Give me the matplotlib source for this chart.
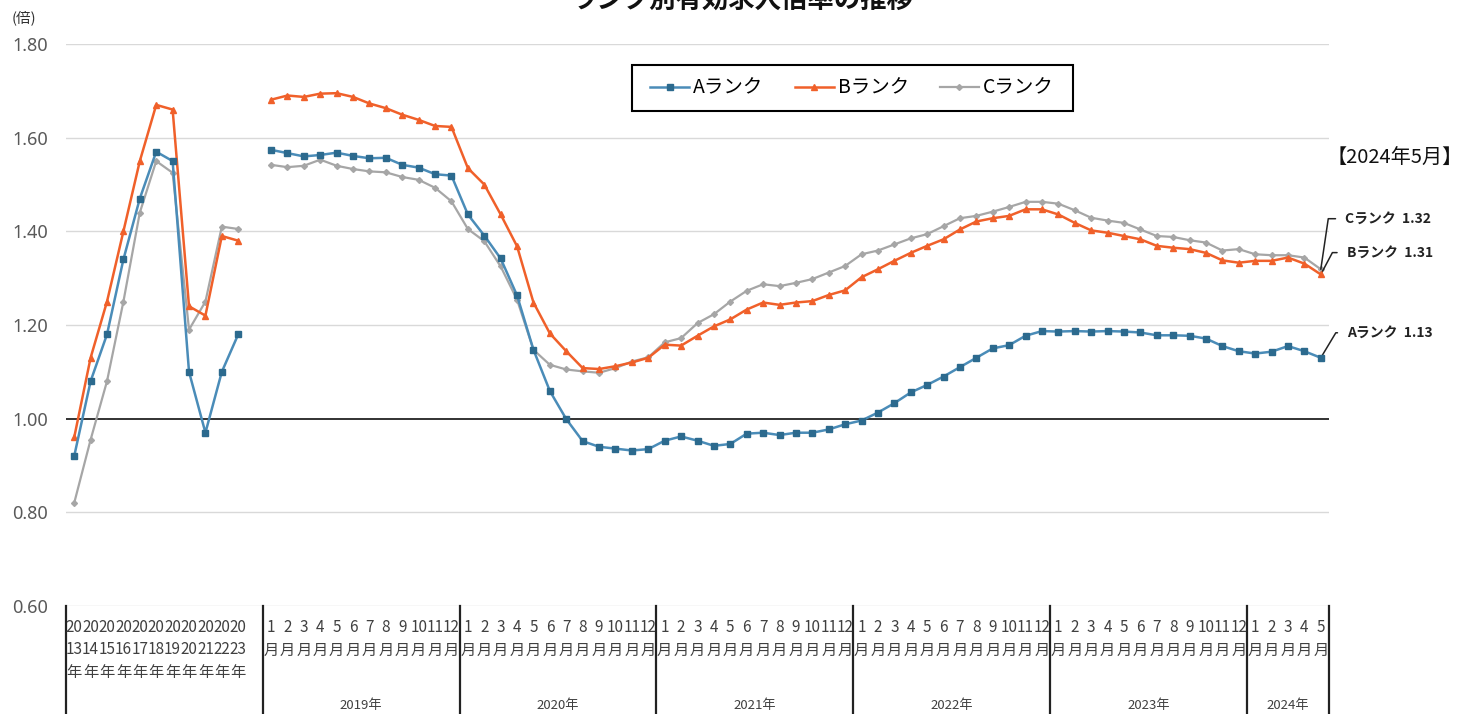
import numpy as np
import matplotlib
matplotlib.use("Agg")
import matplotlib.pyplot as plt
from matplotlib.patches import Rectangle
import matplotlib.transforms as mtransforms

plt.rcParams['font.family'] = ['Noto Sans CJK JP', 'DejaVu Sans']

# ---------------- data ----------------
years_annual = ['2013年', '2014年', '2015年', '2016年', '2017年', '2018年',
                '2019年', '2020年', '2021年', '2022年', '2023年']
month_years = ['2019年', '2020年', '2021年', '2022年', '2023年', '2024年']
months_per_year = [12, 12, 12, 12, 12, 5]
month_labels = ['1月', '2月', '3月', '4月', '5月', '6月', '7月', '8月', '9月', '10月', '11月', '12月']

a_annual = [0.92, 1.08, 1.18, 1.34, 1.47, 1.57, 1.55, 1.10, 0.97, 1.10, 1.18]
b_annual = [0.96, 1.13, 1.25, 1.40, 1.55, 1.67, 1.66, 1.24, 1.22, 1.39, 1.38]
c_annual = [0.82, 0.955, 1.08, 1.25, 1.44, 1.55, 1.525, 1.19, 1.25, 1.41, 1.405]

a_monthly = [1.574, 1.567, 1.560, 1.563, 1.568, 1.561, 1.556, 1.557, 1.542, 1.536, 1.522, 1.519,
             1.436, 1.391, 1.342, 1.263, 1.147, 1.059, 0.999, 0.952, 0.940, 0.936, 0.932, 0.935,
             0.953, 0.962, 0.953, 0.942, 0.946, 0.968, 0.970, 0.965, 0.970, 0.970, 0.977, 0.988,
             0.996, 1.013, 1.033, 1.056, 1.072, 1.090, 1.110, 1.130, 1.150, 1.157, 1.177, 1.187,
             1.186, 1.187, 1.186, 1.187, 1.186, 1.184, 1.178, 1.178, 1.177, 1.171, 1.155, 1.144,
             1.139, 1.143, 1.155, 1.144, 1.130]
b_monthly = [1.681, 1.690, 1.687, 1.694, 1.695, 1.687, 1.673, 1.663, 1.649, 1.638, 1.625, 1.623,
             1.535, 1.500, 1.436, 1.368, 1.248, 1.182, 1.144, 1.108, 1.106, 1.112, 1.120, 1.130,
             1.158, 1.156, 1.177, 1.197, 1.212, 1.233, 1.248, 1.243, 1.248, 1.251, 1.264, 1.274,
             1.302, 1.319, 1.337, 1.354, 1.369, 1.383, 1.404, 1.421, 1.428, 1.433, 1.447, 1.447,
             1.436, 1.418, 1.402, 1.397, 1.390, 1.383, 1.369, 1.365, 1.362, 1.354, 1.338, 1.333,
             1.337, 1.337, 1.344, 1.331, 1.308]
c_monthly = [1.542, 1.537, 1.540, 1.553, 1.540, 1.533, 1.528, 1.526, 1.516, 1.510, 1.493, 1.464,
             1.405, 1.379, 1.325, 1.254, 1.147, 1.115, 1.105, 1.101, 1.098, 1.108, 1.122, 1.131,
             1.163, 1.172, 1.204, 1.223, 1.250, 1.273, 1.287, 1.283, 1.290, 1.298, 1.312, 1.326,
             1.351, 1.359, 1.372, 1.385, 1.394, 1.411, 1.428, 1.433, 1.442, 1.452, 1.463, 1.463,
             1.459, 1.445, 1.429, 1.423, 1.418, 1.404, 1.390, 1.388, 1.381, 1.376, 1.359, 1.362,
             1.351, 1.349, 1.349, 1.344, 1.319]

latest_label = '【2024年5月】'
series_names = ['Aランク', 'Bランク', 'Cランク']
y_ticks = [0.60, 0.80, 1.00, 1.20, 1.40, 1.60, 1.80]

# ---------------- build series on a category axis ----------------
n_ann = len(years_annual)
gap = 1  # one empty category between annual and monthly blocks
n_month = sum(months_per_year)
n_total = n_ann + gap + n_month
x = np.arange(n_total)

def full(annual, monthly):
    return np.array(list(annual) + [np.nan] * gap + list(monthly), dtype=float)

A = full(a_annual, a_monthly)
B = full(b_annual, b_monthly)
C = full(c_annual, c_monthly)

W, H = 1466, 714
fig = plt.figure(figsize=(W / 100, H / 100), dpi=100)
ax = fig.add_axes([66 / W, 1 - 606 / H, (1329 - 66) / W, (606 - 44) / H])

col_a_line, col_a_mk = '#4A8CB8', '#2C6A8E'
col_b = '#F0602A'
col_c = '#A6A6A6'

lc, = ax.plot(x, C, color=col_c, lw=1.6, marker='D', ms=3.0, mfc=col_c, mec=col_c, label=series_names[2], zorder=3)
lb, = ax.plot(x, B, color=col_b, lw=1.8, marker='^', ms=4.5, mfc=col_b, mec=col_b, label=series_names[1], zorder=4)
la, = ax.plot(x, A, color=col_a_line, lw=1.8, marker='s', ms=4.8, mfc=col_a_mk, mec=col_a_mk, label=series_names[0], zorder=5)

ax.set_xlim(-0.5, n_total - 0.5)
ax.set_ylim(y_ticks[0], y_ticks[-1])
ax.set_yticks(y_ticks)
ax.set_yticklabels([f'{v:.2f}' for v in y_ticks])
ax.tick_params(axis='y', length=0, pad=13, labelsize=13, labelcolor='#595959')
for t in ax.get_yticklabels():
    t.set_fontfamily(['Noto Sans', 'DejaVu Sans'])
ax.set_xticks([])
for s in ax.spines.values():
    s.set_visible(False)
for v in y_ticks:
    if abs(v - 1.0) < 1e-9:
        ax.axhline(v, color='#222222', lw=1.3, zorder=2)
    else:
        ax.axhline(v, color='#D9D9D9', lw=1.0, zorder=1)

# ---------------- category table under the axis ----------------
trans = mtransforms.blended_transform_factory(ax.transData, ax.transAxes)
lab_kw = dict(ha='center', va='center', fontsize=11, color='#404040', transform=trans, clip_on=False)
row_y = [(606 - 628) / 562, (606 - 650) / 562, (606 - 673) / 562]
year_y = (606 - 705) / 562

for i, yl in enumerate(years_annual):
    ax.text(i, row_y[0], yl[:2], **lab_kw)
    ax.text(i, row_y[1], yl[2:4], **lab_kw)
    ax.text(i, row_y[2], yl[4:], **lab_kw)

boundaries = [-0.5, n_ann + gap - 0.5]
start = n_ann + gap
for yr, nm in zip(month_years, months_per_year):
    for m in range(nm):
        ml = month_labels[m]
        ax.text(start + m, row_y[0], ml[:-1], **lab_kw)
        ax.text(start + m, row_y[1], ml[-1], **lab_kw)
    ax.text(start + (nm - 1) / 2, year_y, yr, ha='center', va='center', fontsize=9.5,
            color='#404040', transform=trans, clip_on=False)
    start += nm
    boundaries.append(start - 0.5)

for b in boundaries:
    ax.plot([b, b], [0, -0.2], color='#222222', lw=1.6, transform=trans, clip_on=False)

# ---------------- legend ----------------
leg = ax.legend([la, lb, lc], series_names, loc='center',
                bbox_to_anchor=((852 - 66) / 1263, (606 - 88) / 562), ncol=3,
                frameon=False, fontsize=14, handlelength=2.0, handletextpad=0.2,
                columnspacing=1.6)
ax.add_patch(Rectangle(((632 - 66) / 1263, (606 - 111) / 562), (1073 - 632) / 1263, 46 / 562,
                       transform=ax.transAxes, fill=True, facecolor='white', edgecolor='black',
                       lw=1.5, zorder=6))
leg.set_zorder(7)

# ---------------- annotations ----------------
last = n_total - 1
ann = [(series_names[2], C[last], (17.6, 36.4), 81.6),
       (series_names[1], B[last], (18.7, 15.7), 62.0),
       (series_names[0], A[last], (19.0, 18.0), 59.0)]
for name, val, off, ang in ann:
    ax.annotate(f'{name}  {val:.2f}', xy=(last, val), xytext=off, textcoords='offset points',
                ha='left', va='center', fontsize=10, fontweight='bold', color='#222222',
                annotation_clip=False,
                arrowprops=dict(arrowstyle='-', color='#222222', lw=1.1, shrinkA=5, shrinkB=0,
                                relpos=(0, 0.5),
                                connectionstyle=f'angle,angleA=0,angleB={ang},rad=0'))

fig.text(1327 / W, 1 - 158 / H, latest_label, ha='left', va='center', fontsize=14.5, color='#111111')
fig.text(12 / W, 1 - 18 / H, '(倍)', ha='left', va='center', fontsize=10.5, color='#333333')
# title is partly above the top edge in the reference picture
fig.text(742 / W, 1 - 8 / H, 'ランク別有効求人倍率の推移', ha='center', va='baseline',
         fontsize=19, fontweight='bold', color='#111111')

fig.savefig('out.png', dpi=100)
